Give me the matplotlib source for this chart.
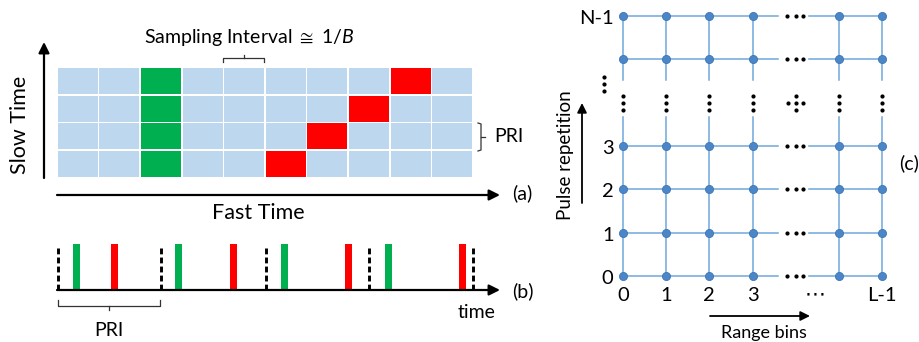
import matplotlib
matplotlib.use("Agg")
import matplotlib.pyplot as plt
from matplotlib.patches import Rectangle

plt.rcParams['font.family'] = ['Lato', 'DejaVu Sans']
plt.rcParams['mathtext.fontset'] = 'custom'
plt.rcParams['mathtext.rm'] = 'Lato'
plt.rcParams['mathtext.it'] = 'Lato:italic'

# ---------------- data ----------------
n_fast = 10                    # fast-time bins in panel (a)
n_slow = 4                     # slow-time rows in panel (a)
green_bin = 2                  # stationary target bin
red_bins = [5, 6, 7, 8]        # moving target bin per row (bottom -> top)

pri_edges = [0.0, 1.0, 2.03, 3.03, 4.05]   # PRI boundaries (in PRI units)
green_t = [0.18, 1.18, 2.21, 3.22]         # stationary echo times
red_t = [0.55, 1.71, 2.83, 3.95]           # moving echo times

lattice_rows = [0, 1, 2, 3, 5, 6]
lattice_cols = [0, 1, 2, 3, 5, 6]
ellipsis_idx = 4
row_labels = ['0', '1', '2', '3', '', 'N-1']
col_labels = ['0', '1', '2', '3', '', 'L-1']

BLUE = '#BDD7EE'
GREEN = '#00B050'
RED = '#FF0000'
LINE_C = '#6FA8DC'
PT_C = '#4A86C8'

W, H = 919, 342
fig = plt.figure(figsize=(W / 100, H / 100), dpi=100)


def frac(x0, y0, x1, y1):
    return [x0 / W, 1 - y1 / H, (x1 - x0) / W, (y1 - y0) / H]


# ---------------- panel (a) ----------------
ax_a = fig.add_axes(frac(57, 67, 473, 178))
ax_a.set_xlim(0, n_fast)
ax_a.set_ylim(0, n_slow)
ax_a.set_axis_off()
gx, gy = 0.02, 0.03
for r in range(n_slow):
    for c in range(n_fast):
        col = BLUE
        if c == green_bin:
            col = GREEN
        elif c == red_bins[r]:
            col = RED
        ax_a.add_patch(Rectangle((c + gx, r + gy), 1 - 2 * gx, 1 - 2 * gy,
                                 facecolor=col, edgecolor='none'))

# ---------------- panel (b) ----------------
px_per_pri = 102.5
b_span = 4.2
ax_b = fig.add_axes(frac(58, 244, 58 + b_span * px_per_pri, 290))
ax_b.set_xlim(0, b_span)
ax_b.set_ylim(0, 1)
ax_b.set_axis_off()
pw = 7 / px_per_pri
ax_b.bar(green_t, 1, width=pw, color=GREEN, clip_on=False)
ax_b.bar(red_t, 1, width=pw, color=RED, clip_on=False)
ax_b.vlines(pri_edges, 0, 0.98, colors='k', linewidth=2.1,
            linestyles=(0, (2.0, 1.1)), clip_on=False)

# ---------------- panel (c) ----------------
ax_c = fig.add_axes(frac(623, 16, 882, 276))
ax_c.set_xlim(0, 6)
ax_c.set_ylim(0, 6)
ax_c.set_axis_off()
DOT = 4
for r in lattice_rows:
    ax_c.plot([lattice_cols[0], 3.6], [r, r], color=LINE_C, lw=1.1, clip_on=False, zorder=1)
    ax_c.plot([4.3, lattice_cols[-1]], [r, r], color=LINE_C, lw=1.1, clip_on=False, zorder=1)
    ax_c.scatter([ellipsis_idx - 0.19, ellipsis_idx, ellipsis_idx + 0.17], [r] * 3,
                 s=DOT, color='k', clip_on=False, zorder=3)
for c in lattice_cols:
    ax_c.plot([c, c], [0, 3.67], color=LINE_C, lw=1.1, clip_on=False, zorder=1)
    ax_c.plot([c, c], [4.52, 6], color=LINE_C, lw=1.1, clip_on=False, zorder=1)
    ax_c.scatter([c] * 3, [4.15, 3.99, 3.83], s=DOT, color='k', clip_on=False, zorder=3)
for r in lattice_rows:
    ax_c.scatter(lattice_cols, [r] * len(lattice_cols), s=34, color=PT_C,
                 edgecolors='#3D76B3', linewidths=0.6, clip_on=False, zorder=4)
# central cross of dots
ax_c.scatter([ellipsis_idx, ellipsis_idx - 0.18, ellipsis_idx, ellipsis_idx + 0.17, ellipsis_idx],
             [4.15, 3.99, 3.99, 3.99, 3.83], s=DOT, color='k', clip_on=False, zorder=3)
# left vertical ellipsis
ax_c.scatter([-0.44] * 3, [4.59, 4.42, 4.26], s=DOT, color='k', clip_on=False, zorder=3)
for r, lab in zip(lattice_rows, row_labels):
    if lab:
        ax_c.text(-0.22, r - 0.06, lab, ha='right', va='center', fontsize=14.5)
for c, lab in zip(lattice_cols, col_labels):
    if lab:
        ax_c.text(c, -0.44, lab, ha='center', va='center', fontsize=14.5)
ax_c.text(4.45, -0.42, '\u22ef', ha='center', va='center', fontsize=15,
          family=['DejaVu Sans'])

# ---------------- overlay (pixel coordinates) ----------------
ax_o = fig.add_axes([0, 0, 1, 1])
ax_o.set_xlim(0, W)
ax_o.set_ylim(H, 0)
ax_o.set_axis_off()
ax_o.patch.set_visible(False)


def arrow(x0, y0, x1, y1, lw=1.6, ms=16):
    ax_o.annotate('', xy=(x1, y1), xytext=(x0, y0),
                  arrowprops=dict(arrowstyle='-|>', lw=lw, color='k',
                                  mutation_scale=ms, shrinkA=0, shrinkB=0))


# panel a arrows/text
arrow(44, 178, 44, 42)
arrow(57, 195, 500, 195)
ax_o.text(20, 125, 'Slow Time', rotation=90, ha='center', va='center', fontsize=15.5)
ax_o.text(258, 213, 'Fast Time', ha='center', va='center', fontsize=15.5)
ax_o.text(249, 38, r'Sampling Interval $\cong\ 1/B$', ha='center', va='center', fontsize=14)
ax_o.plot([223, 223, 264, 264], [62, 58, 58, 62], color='#333333', lw=0.9)
ax_o.plot([244, 244], [58, 55], color='#333333', lw=0.9)
ax_o.plot([478, 481, 481, 478], [123, 124, 150, 151], color='#333333', lw=0.9)
ax_o.plot([481, 485], [137, 137], color='#333333', lw=0.9)
ax_o.text(494, 137, 'PRI', ha='left', va='center', fontsize=14)
ax_o.text(512, 193, '(a)', ha='left', va='center', fontsize=14)

# panel b
arrow(57, 290, 500, 290, lw=1.6)
ax_o.text(477, 312, 'time', ha='center', va='center', fontsize=14)
ax_o.plot([58, 58, 160, 160], [300, 306, 306, 300], color='#333333', lw=0.9)
ax_o.plot([109, 109], [306, 310], color='#333333', lw=0.9)
ax_o.text(109, 330, 'PRI', ha='center', va='center', fontsize=14)
ax_o.text(512, 291, '(b)', ha='left', va='center', fontsize=14)

# panel c
arrow(710, 316, 810, 316, lw=1.3, ms=14)
ax_o.text(764, 333, 'Range bins', ha='center', va='center', fontsize=13)
arrow(582, 203, 582, 103, lw=1.3, ms=14)
ax_o.text(566, 155, 'Pulse repetition', rotation=90, ha='center', va='center', fontsize=13.5)
ax_o.text(899, 163, '(c)', ha='left', va='center', fontsize=14)

fig.savefig('out.png', dpi=100)
